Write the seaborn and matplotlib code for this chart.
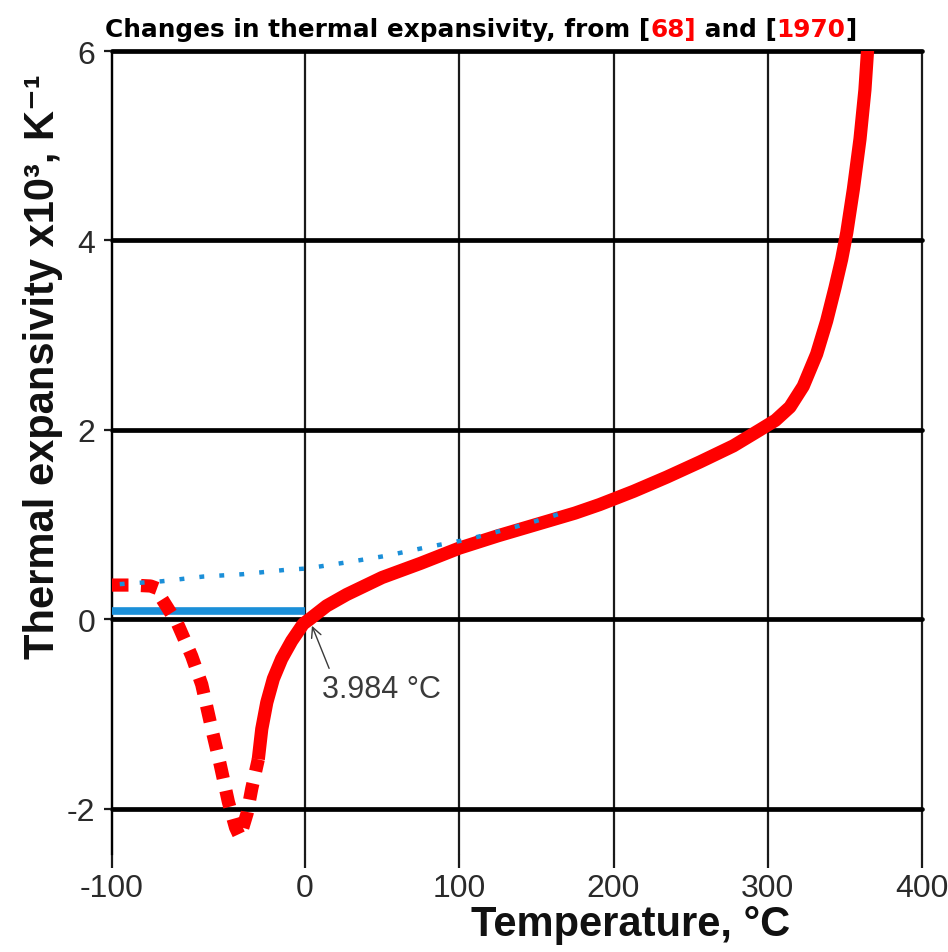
import numpy as np
import pandas as pd
import matplotlib
matplotlib.use("Agg")
import matplotlib.pyplot as plt
from matplotlib import font_manager
import seaborn as sns

# ---------------- data ----------------
x_ticks = [-100, 0, 100, 200, 300, 400]
x_tick_labels = ["-100", "0", "100", "200", "300", "400"]
y_ticks = [-2, 0, 2, 4, 6]
y_tick_labels = ["-2", "0", "2", "4", "6"]

# solid red curve (liquid water)
solid_T = [-24.2, -22.4, -19.8, -16.4, -12.1, -6.9, -0.9, 3.0, 14.0, 27.0, 50.0, 75.0,
           100.0, 125.0, 150.0, 175.0, 191.0, 213.0, 234.5, 256.0, 277.7, 295.0,
           305.0, 314.4, 323.0, 331.7, 338.2, 343.6, 347.9, 351.2, 355.5, 359.8,
           363.0, 364.8]
solid_a = [-1.48, -1.16, -0.88, -0.63, -0.42, -0.23, -0.05, 0.0, 0.14, 0.26, 0.44, 0.59,
           0.75, 0.88, 1.00, 1.12, 1.21, 1.35, 1.50, 1.66, 1.83, 2.00,
           2.10, 2.24, 2.46, 2.80, 3.15, 3.50, 3.80, 4.08, 4.54, 5.07,
           5.59, 6.03]

# dashed red curve (supercooled water)
dashed_T = [-100.0, -90.0, -80.0, -76.0, -74.0, -66.0, -58.7, -53.5, -48.3, -44.0,
            -39.7, -36.0, -33.7, -30.0, -27.6, -24.2]
dashed_a = [0.36, 0.36, 0.35, 0.32, 0.21, -0.05, -0.39, -0.69, -1.16, -1.53,
            -1.93, -2.20, -2.30, -2.05, -1.79, -1.48]

# dotted blue curve
dotted_T = [-96.0, -74.2, -52.7, -32.0, -10.4, 1.1, 27.0, 53.0, 79.0, 105.0, 131.0, 157.0, 170.0]
dotted_a = [0.37, 0.40, 0.45, 0.475, 0.52, 0.535, 0.60, 0.67, 0.76, 0.84, 0.95, 1.07, 1.14]

# solid blue line (ice)
ice_T = [-100.0, 0.0]
ice_a = [0.085, 0.085]

annot_T, annot_a = 4.5, -0.07
annot_text = "3.984 °C"

title_parts = ["Changes in thermal expansivity, from [", "68]", " and [", "1970", "]"]
title_colors = ["black", "#ff0000", "black", "#ff0000", "black"]

RED = "#ff0000"
BLUE = "#1b8fd8"

# ---------------- style ----------------
sns.set_theme(style="white")
plt.rcParams["font.family"] = ["Liberation Sans", "DejaVu Sans"]

names = {f.name for f in font_manager.fontManager.ttflist}
if "Liberation Sans Narrow" in names:
    title_family, title_size = ["Liberation Sans Narrow", "DejaVu Sans"], 24
else:
    title_family, title_size = ["DejaVu Sans"], 17.8

fig = plt.figure(figsize=(9.48, 9.53), dpi=100)
ax = fig.add_axes([112 / 948, 1 - 855 / 953, 810 / 948, 803 / 953])

K = 1.93 / 1.5425  # negative temperatures are stretched in the reference


def fwd(x):
    x = np.asarray(x, dtype=float)
    return np.where(x < 0, x * K, x)


def inv(u):
    u = np.asarray(u, dtype=float)
    return np.where(u < 0, u / K, u)


ax.set_xscale("function", functions=(fwd, inv))
ax.set_xlim(-100, 400)
ax.set_ylim(-2.48, 6)

# grid
ax.set_axisbelow(True)
ax.set_xticks(x_ticks)
ax.set_xticklabels(x_tick_labels)
ax.set_yticks(y_ticks)
ax.set_yticklabels(y_tick_labels)
ax.xaxis.grid(True, color="#1a1a1a", linewidth=1.6)
ax.yaxis.grid(True, color="black", linewidth=3.4)
for gl in ax.get_xgridlines() + ax.get_ygridlines():
    gl.set_clip_on(False)

for s in ["top", "right", "bottom"]:
    ax.spines[s].set_visible(False)
ax.spines["left"].set_color("black")
ax.spines["left"].set_linewidth(1.6)

ax.tick_params(axis="x", direction="out", length=10, width=1.6, color="#1a1a1a",
               labelsize=23, labelcolor="#2a2a2a", pad=4, bottom=True)
ax.tick_params(axis="y", direction="out", length=6, width=1.6, color="#1a1a1a",
               labelsize=23, labelcolor="#2a2a2a", pad=6, left=True)

# ---------------- data series ----------------
df_ice = pd.DataFrame({"T": ice_T, "a": ice_a})
df_dot = pd.DataFrame({"T": dotted_T, "a": dotted_a})
df_dash = pd.DataFrame({"T": dashed_T, "a": dashed_a})
df_solid = pd.DataFrame({"T": solid_T, "a": solid_a})

sns.lineplot(data=df_ice, x="T", y="a", ax=ax, color=BLUE, linewidth=5.5,
             sort=False, estimator=None, solid_capstyle="butt", zorder=3)
sns.lineplot(data=df_dash, x="T", y="a", ax=ax, color=RED, linewidth=9.5,
             sort=False, estimator=None, zorder=4)
ax.lines[-1].set_linestyle((0, (1.25, 0.95)))
ax.lines[-1].set_dash_capstyle("butt")
sns.lineplot(data=df_solid, x="T", y="a", ax=ax, color=RED, linewidth=9.5,
             sort=False, estimator=None, zorder=5, solid_capstyle="butt",
             solid_joinstyle="round")
sns.lineplot(data=df_dot, x="T", y="a", ax=ax, color=BLUE, linewidth=3.2,
             sort=False, estimator=None, zorder=6)
ax.lines[-1].set_linestyle((0, (1.1, 3.4)))

ax.set_xlabel("")
ax.set_ylabel("")

# annotation
ax.annotate(annot_text, xy=(annot_T, annot_a), xytext=(11, -0.74),
            textcoords="data", ha="left", va="center", fontsize=22, color="#3a3a3a",
            arrowprops=dict(arrowstyle="->", color="#3a3a3a", lw=1.0,
                            shrinkA=2, shrinkB=0, relpos=(0.08, 1.0),
                            mutation_scale=18),
            zorder=7)

# axis labels
fig.text(631 / 948, 1 - 925 / 953, "Temperature, °C", ha="center", va="center",
         fontsize=30, fontweight="bold", color="#111111")
fig.text(43 / 948, 1 - 367 / 953, "Thermal expansivity x10³, K⁻¹", rotation=90,
         ha="center", va="center", fontsize=30, fontweight="bold", color="#111111",
         family=["Liberation Sans", "DejaVu Sans"])

# multi-colour title
t = fig.text(105 / 948, 1 - 42 / 953, title_parts[0], color=title_colors[0],
             fontsize=title_size, fontweight="bold", family=title_family,
             ha="left", va="bottom")
for part, col in zip(title_parts[1:], title_colors[1:]):
    t = ax.annotate(part, xy=(1, 0), xycoords=t, ha="left", va="bottom",
                    color=col, fontsize=title_size, fontweight="bold",
                    family=title_family, annotation_clip=False)

fig.savefig("out.png", dpi=100)
